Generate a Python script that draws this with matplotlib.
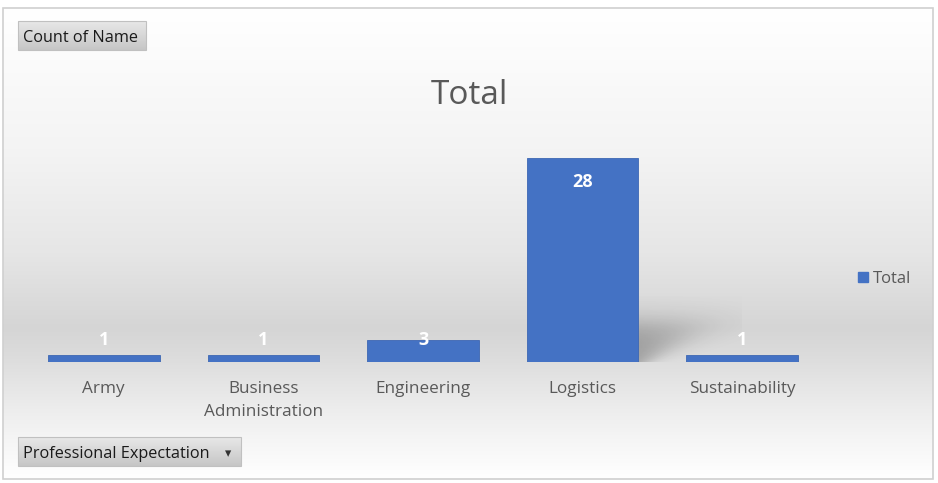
import numpy as np
import matplotlib.pyplot as plt
from matplotlib.colors import LinearSegmentedColormap
from matplotlib.patches import Rectangle, Patch

categories = ["Army", "Business\nAdministration", "Engineering", "Logistics", "Sustainability"]
counts = [1, 1, 3, 28, 1]
series_name = "Total"

W, H = 938, 483
fig = plt.figure(figsize=(W / 100, H / 100), dpi=100)
plt.rcParams["font.family"] = ["Open Sans", "DejaVu Sans"]

# background layer in pixel coordinates
bg = fig.add_axes([0, 0, 1, 1], zorder=-10)
bg.axis("off")

stops = [(0.0, "#ffffff"), (0.30, "#f4f4f4"), (0.52, "#e6e6e6"),
         (0.68, "#d5d5d5"), (0.74, "#dcdcdc"), (0.86, "#eeeeee"), (1.0, "#ffffff")]
cmap_bg = LinearSegmentedColormap.from_list("bg", stops)
grad = np.linspace(0, 1, 256).reshape(-1, 1)
bg.imshow(grad, cmap=cmap_bg, aspect="auto", extent=(3, 933, 479, 8), zorder=0)
bg.add_patch(Rectangle((3, 8), 930, 471, fill=False, ec="#d0d0d0", lw=1.2, zorder=1))

# pivot buttons
btn_cmap = LinearSegmentedColormap.from_list("btn", ["#e8e8e8", "#c6c6c6"])
for x0, w, y0, h, txt in [(18, 128, 21, 29, "Count of Name"),
                           (18, 223, 437, 29, "Professional Expectation")]:
    bg.imshow(grad, cmap=btn_cmap, aspect="auto", extent=(x0, x0 + w, y0 + h, y0), zorder=2)
    bg.add_patch(Rectangle((x0, y0), w, h, fill=False, ec="#c0c0c0", lw=0.8, zorder=3))
    bg.text(x0 + 5, y0 + h / 2 + 2.5, txt, fontsize=11.7, color="#1a1a1a",
            ha="left", va="center", zorder=4)
bg.text(228, 454, "\u25BE", fontsize=9, color="#333333", ha="center", va="center", zorder=4)
bg.set_xlim(0, W)
bg.set_ylim(H, 0)

# chart
ax = fig.add_axes([24 / W, 121 / H, 798 / W, 232 / H])
ax.patch.set_alpha(0)
x = np.arange(len(categories))
ymax = 232 / 7.29
ax.bar(x, counts, width=0.7, color="#4472c4", edgecolor="#3d67b3", lw=0.6,
       label=series_name, zorder=3)

# soft shadow behind the tallest bar
i_max = int(np.argmax(counts))
xs = np.linspace(i_max + 0.3, i_max + 1.0, 200)
ys = np.linspace(0, 9, 120)
XX, YY = np.meshgrid(xs, ys)
px_x = (XX - (i_max + 0.35)) * 159.5
px_y = YY * 7.29
u = px_x - 1.35 * px_y
blur = 7 + 0.4 * px_y
a = 1 / (1 + np.exp(-(-u + 8) / blur))
a *= 1 / (1 + np.exp((px_y - 38) / 8))
a *= 0.3
rgba = np.zeros(a.shape + (4,))
rgba[..., 3] = a
ax.imshow(rgba, extent=(xs[0], xs[-1], 0, ys[-1]), origin="lower", aspect="auto", zorder=2)
ax.set_xlim(-0.5, len(categories) - 0.5)
ax.set_ylim(0, ymax)

for xi, v in zip(x, counts):
    ax.text(xi, max(v - 3.3, 3.0), str(v), color="white", fontsize=13, fontweight="bold",
            ha="center", va="center", zorder=4)

ax.set_xticks(x, categories, fontsize=12.3, color="#595959", linespacing=1.55)
ax.tick_params(axis="x", length=0, pad=14)
ax.set_yticks([])
for s in ax.spines.values():
    s.set_visible(False)

fig.text(469 / W, 1 - 95 / H, "Total", fontsize=24, color="#595959", ha="center", va="center")

ax.legend(handles=[Patch(color="#4472c4", label=series_name)], loc="center left",
          bbox_to_anchor=(850 / W, 1 - 279 / H), bbox_transform=fig.transFigure,
          frameon=False, handlelength=0.6, handleheight=0.6, handletextpad=0.3,
          borderpad=0, prop={"size": 12}, labelcolor="#595959")

fig.savefig("out.png", dpi=100)
